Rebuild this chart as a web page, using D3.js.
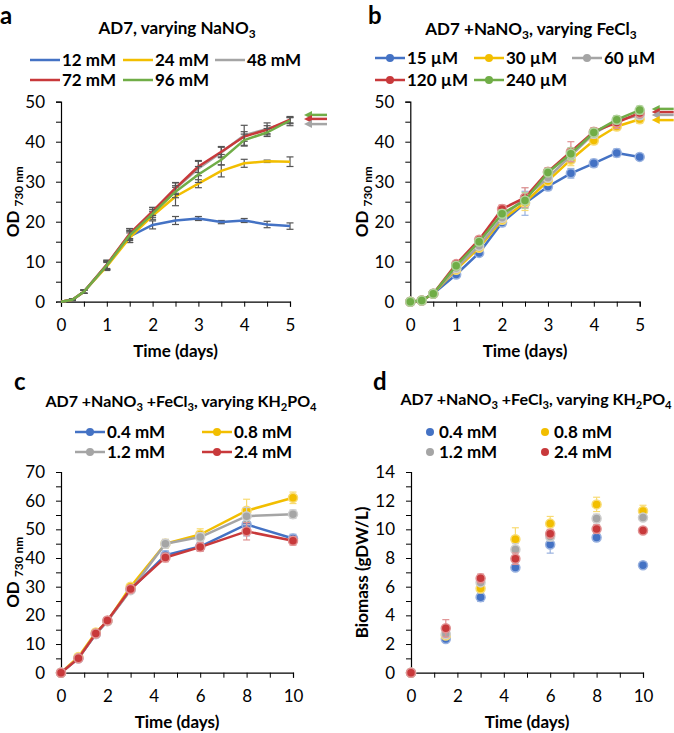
<!DOCTYPE html>
<html><head><meta charset="utf-8">
<script src="https://cdn.jsdelivr.net/npm/d3@7"></script>
<style>
body{margin:0;background:#fff;}
svg{display:block;font-family:Lato,"Open Sans",sans-serif;}
</style></head>
<body>
<svg id="chart" width="674" height="733"></svg>
<script>
// ---------- DATA ----------
const colors = {blue:"#4472C4", yellow:"#F2BE00", gray:"#A5A5A5", red:"#C8393B", green:"#70AD47"};

// Panel a: AD7, varying NaNO3
const timeA = [0,0.25,0.5,1,1.5,2,2.5,3,3.5,4,4.5,5];
const namesA = ["12 mM","24 mM","48 mM","72 mM","96 mM"];
const a12 = [0,0.5,2.5,9,16.3,19.2,20.3,20.8,19.9,20.3,19.3,18.9];
const a24 = [0,0.5,2.5,8.8,16,21.5,26.3,29.5,32.7,34.6,35.1,35];
const a48 = [0,0.5,2.5,9.2,16.8,22.5,28.3,33.3,37.3,41.6,43.2,45];
const a72 = [0,0.5,2.5,9.3,17,22.6,28.4,33.8,37.5,41.3,43,45.5];
const a96 = [0,0.5,2.5,9.1,16.6,22,27.5,31.8,35.5,40.4,42.3,45.3];
const a12e = [0,0.2,0.4,1,1.5,1,1,0.5,0.4,0.5,0.8,0.8];
const a24e = [0,0.2,0.4,1,1.2,1,2.3,1,1.5,1,0.3,1.2];
const a48e = [0,0.2,0.4,1.2,1.5,1,1.5,1.8,1.3,2.5,1.5,1];
const a72e = [0,0.2,0.4,1,1.2,1,1.3,1.5,1.3,1.2,1,0.8];
const a96e = [0,0.2,0.4,1,1,1,1.5,2,1.3,1.5,1,0.8];
const arrowsA = [{c:"green",v:46.7},{c:"red",v:45.7},{c:"gray",v:44.4}];

// Panel b: AD7 +NaNO3, varying FeCl3
const timeB = [0,0.25,0.5,1,1.5,2,2.5,3,3.5,4,4.5,5];
const namesB = ["15 µM","30 µM","60 µM","120 µM","240 µM"];
const b15 = [0,0.3,2,6.8,12.2,19.8,24.6,28.8,32.1,34.6,37.2,36.2];
const b30 = [0,0.3,2,8,13.5,20.5,24.8,30.2,35.5,40.3,43.8,45.6];
const b60 = [0,0.3,2,8.4,14,21,26,31,36.5,42,45.3,46.6];
const b120 = [0,0.3,2,9.4,15.5,23.2,26,32.5,37.5,42.5,44.8,47.2];
const b240 = [0,0.3,2,9,15,22,25.3,32.3,37,42.3,45.5,47.9];
const b15e = [0,0.2,0.3,0.8,0.8,1,3,1,1.2,1,1,0.8];
const b30e = [0,0.2,0.3,0.8,0.8,1,2,1,1.5,1,1,1];
const b60e = [0,0.2,0.3,0.8,0.8,1,2.5,1,1.5,1,1,1];
const b120e = [0,0.2,0.3,0.8,0.8,1,2.5,1,2.5,1,1.5,1];
const b240e = [0,0.2,0.3,0.8,0.8,1,2,1,1.5,1,1,1];
const arrowsB = [{c:"green",v:48.2},{c:"red",v:47.4},{c:"gray",v:46.7},{c:"yellow",v:45.4}];

// Panel c: AD7 +NaNO3 +FeCl3, varying KH2PO4 (OD)
const timeC = [0,0.75,1.5,2,3,4.5,6,8,10];
const namesC = ["0.4 mM","0.8 mM","1.2 mM","2.4 mM"];
const c04 = [0,5,13.5,18,29,41,44,51.7,46.8];
const c08 = [0,5.5,14,18,30,45,48.2,56.5,61];
const c12 = [0,5,13.5,18,28.8,45,47.3,54.6,55.3];
const c24 = [0,5,13.7,18.2,29.2,40.2,43.8,49.3,46];
const c04e = [0,0.5,1,0.8,1,1.5,1.5,4,1.5];
const c08e = [0,0.5,1,0.8,1,1.5,2,4,2];
const c12e = [0,0.5,1,0.8,1,1.5,1.5,3,1.5];
const c24e = [0,0.5,1,0.8,1,1.5,1.5,3,1.5];

// Panel d: biomass
const timeD = [0,1.5,3,4.5,6,8,10];
const namesD = ["0.4 mM","0.8 mM","1.2 mM","2.4 mM"];
const d04 = [0,2.35,5.27,7.33,8.94,9.43,7.5];
const d08 = [0,2.6,5.87,9.31,10.4,11.74,11.28];
const d12 = [0,2.7,6.3,8.6,9.5,10.76,10.82];
const d24 = [0,3.1,6.58,7.95,9.7,10.02,9.92];
const d04e = [0,0.15,0.3,0.2,0.6,0.25,0.2];
const d08e = [0,0.2,0.2,0.8,0.5,0.5,0.4];
const d12e = [0,0.2,0.2,0.4,0.3,0.3,0.2];
const d24e = [0,0.6,0.3,0.4,0.3,0.3,0.2];

// ---------- DRAW ----------
const svg = d3.select("#chart");
const FS = 17;
const light = c => d3.interpolateRgb(c,"#fff")(0.45);

function sub(textSel, parts){
  let shifted = false;
  parts.forEach(([t,s])=>{
    const ts = textSel.append("tspan").text(t);
    if(s && !shifted){ts.attr("dy",4).attr("font-size","0.7em"); shifted=true;}
    else if(!s && shifted){ts.attr("dy",-4); shifted=false;}
  });
}

function panel(cfg){
  const g = svg.append("g");
  const x = d3.scaleLinear().domain(cfg.xd).range([cfg.L,cfg.R]);
  const y = d3.scaleLinear().domain(cfg.yd).range([cfg.B,cfg.T]);
  const yAxis = d3.axisLeft(y).tickValues(d3.range(cfg.yd[0],cfg.yd[1]+1e-9,cfg.yMinor))
     .tickSize(5).tickPadding(11)
     .tickFormat(v => (Math.abs(v/cfg.yMajor - Math.round(v/cfg.yMajor))<1e-6) ? d3.format("d")(v) : "");
  const xAxis = d3.axisBottom(x).tickValues(d3.range(cfg.xd[0],cfg.xd[1]+1e-9,cfg.xMinor))
     .tickSize(5).tickPadding(12)
     .tickFormat(v => (Math.abs(v/cfg.xMajor - Math.round(v/cfg.xMajor))<1e-6) ? d3.format("d")(v) : "");
  const ya = g.append("g").attr("transform",`translate(${cfg.L},0)`).call(yAxis);
  const xa = g.append("g").attr("transform",`translate(0,${cfg.B})`).call(xAxis);
  [ya,xa].forEach(a=>{
    a.select(".domain").attr("stroke","#000").attr("stroke-width",1.2);
    a.selectAll(".tick line").attr("stroke","#000").attr("stroke-width",1);
    a.selectAll("text").attr("font-size",FS).attr("fill","#000").attr("font-family","Lato");
  });
  g.append("text").attr("x",(cfg.L+cfg.R)/2).attr("y",cfg.B+55).attr("text-anchor","middle")
    .attr("font-weight","bold").attr("font-size",FS).text("Time (days)");
  const yl = g.append("text").attr("transform",`translate(${cfg.L-cfg.yLabOff},${(cfg.T+cfg.B)/2}) rotate(-90)`)
    .attr("text-anchor","middle").attr("font-weight","bold").attr("font-size",FS);
  sub(yl, cfg.yLabel);
  g.append("text").attr("x",cfg.letterX).attr("y",cfg.letterY).attr("font-weight","bold")
    .attr("font-size",24).text(cfg.letter);
  const tt = g.append("text").attr("x",cfg.titleX).attr("y",cfg.titleY).attr("text-anchor","middle")
    .attr("font-weight","bold").attr("font-size",cfg.titleFS);
  sub(tt, cfg.title);

  cfg.series.forEach(s=>{
    const pts = cfg.time.map((t,i)=>({t, v:s.v[i], e:s.e[i]}));
    const col = colors[s.c];
    const ecol = cfg.errGray ? "#555" : light(col);
    const eg = g.append("g");
    pts.forEach(p=>{
      eg.append("line").attr("x1",x(p.t)).attr("x2",x(p.t)).attr("y1",y(p.v-p.e)).attr("y2",y(p.v+p.e))
        .attr("stroke",ecol).attr("stroke-width",1.2);
      [p.v-p.e,p.v+p.e].forEach(v=>eg.append("line").attr("x1",x(p.t)-3.5).attr("x2",x(p.t)+3.5)
        .attr("y1",y(v)).attr("y2",y(v)).attr("stroke",ecol).attr("stroke-width",1.2));
    });
    if(cfg.lines){
      g.append("path").datum(pts).attr("fill","none").attr("stroke",col).attr("stroke-width",2.5)
        .attr("stroke-linejoin","round")
        .attr("d",d3.line().x(p=>x(p.t)).y(p=>y(p.v)));
    }
    if(cfg.markers){
      g.selectAll(null).data(pts).enter().append("circle")
        .attr("cx",p=>x(p.t)).attr("cy",p=>y(p.v)).attr("r",4.5)
        .attr("fill",col).attr("stroke",light(col)).attr("stroke-width",1.5);
    }
  });
  (cfg.arrows||[]).forEach(a=>{
    const col = colors[a.c];
    const x0 = cfg.R + cfg.arrowOff, yy = y(a.v);
    g.append("path").attr("d",`M${x0},${yy} L${x0+8},${yy-4} L${x0+8},${yy+4} Z`).attr("fill",col);
    g.append("line").attr("x1",x0+7).attr("x2",x0+cfg.arrowLen).attr("y1",yy).attr("y2",yy)
      .attr("stroke",col).attr("stroke-width",2.5);
  });
  cfg.legend.forEach((it,i)=>{
    const col = colors[it.c];
    const lx = cfg.legX[i%cfg.legCols], ly = cfg.legY[Math.floor(i/cfg.legCols)];
    if(cfg.legLine){
      g.append("line").attr("x1",lx).attr("x2",lx+30).attr("y1",ly).attr("y2",ly)
        .attr("stroke",col).attr("stroke-width",2.5);
      if(cfg.markers) g.append("circle").attr("cx",lx+15).attr("cy",ly).attr("r",4).attr("fill",col);
      g.append("text").attr("x",lx+32).attr("y",ly+6).attr("font-weight","bold").attr("font-size",FS).text(it.n);
    } else {
      g.append("circle").attr("cx",lx).attr("cy",ly).attr("r",4).attr("fill",col);
      g.append("text").attr("x",lx+9).attr("y",ly+6).attr("font-weight","bold").attr("font-size",FS).text(it.n);
    }
  });
}

const odLabel = [["OD ",false],["730 nm",true]];
const titleC = [["AD7 +NaNO",false],["3",true],[" +FeCl",false],["3",true],[", varying KH",false],["2",true],["PO",false],["4",true]];

panel({
  L:61,R:290,T:101.7,B:301.7, xd:[0,5], yd:[0,50], xMinor:0.5, xMajor:1, yMinor:5, yMajor:10,
  time:timeA, lines:true, markers:false, errGray:true,
  series:[{c:"blue",v:a12,e:a12e},{c:"yellow",v:a24,e:a24e},{c:"gray",v:a48,e:a48e},{c:"red",v:a72,e:a72e},{c:"green",v:a96,e:a96e}],
  arrows:arrowsA, arrowOff:14, arrowLen:23,
  legend:[{c:"blue",n:namesA[0]},{c:"yellow",n:namesA[1]},{c:"gray",n:namesA[2]},{c:"red",n:namesA[3]},{c:"green",n:namesA[4]}],
  legX:[30,123,215], legY:[60,80], legCols:3, legLine:true,
  letter:"a", letterX:0, letterY:24,
  title:[["AD7, varying NaNO",false],["3",true]], titleX:177, titleY:34, titleFS:17,
  yLabel:odLabel, yLabOff:42
});
panel({
  L:410.3,R:639.7,T:101.7,B:301.7, xd:[0,5], yd:[0,50], xMinor:0.5, xMajor:1, yMinor:5, yMajor:10,
  time:timeB, lines:true, markers:true, errGray:false,
  series:[{c:"blue",v:b15,e:b15e},{c:"yellow",v:b30,e:b30e},{c:"gray",v:b60,e:b60e},{c:"red",v:b120,e:b120e},{c:"green",v:b240,e:b240e}],
  arrows:arrowsB, arrowOff:12, arrowLen:22,
  legend:[{c:"blue",n:namesB[0]},{c:"yellow",n:namesB[1]},{c:"gray",n:namesB[2]},{c:"red",n:namesB[3]},{c:"green",n:namesB[4]}],
  legX:[375,474,572], legY:[58,80], legCols:3, legLine:true,
  letter:"b", letterX:368, letterY:24,
  title:[["AD7 +NaNO",false],["3",true],[", varying FeCl",false],["3",true]], titleX:531, titleY:35, titleFS:17,
  yLabel:odLabel, yLabOff:42
});
panel({
  L:61,R:293,T:472,B:672.7, xd:[0,10], yd:[0,70], xMinor:1, xMajor:2, yMinor:5, yMajor:10,
  time:timeC, lines:true, markers:true, errGray:false,
  series:[{c:"blue",v:c04,e:c04e},{c:"yellow",v:c08,e:c08e},{c:"gray",v:c12,e:c12e},{c:"red",v:c24,e:c24e}],
  legend:[{c:"blue",n:namesC[0]},{c:"yellow",n:namesC[1]},{c:"gray",n:namesC[2]},{c:"red",n:namesC[3]}],
  legX:[75,202], legY:[432,452], legCols:2, legLine:true,
  letter:"c", letterX:14, letterY:390,
  title:titleC, titleX:181, titleY:407, titleFS:16,
  yLabel:odLabel, yLabOff:42
});
panel({
  L:411,R:643,T:472,B:672.7, xd:[0,10], yd:[0,14], xMinor:1, xMajor:2, yMinor:1, yMajor:2,
  time:timeD, lines:false, markers:true, errGray:false,
  series:[{c:"blue",v:d04,e:d04e},{c:"yellow",v:d08,e:d08e},{c:"gray",v:d12,e:d12e},{c:"red",v:d24,e:d24e}],
  legend:[{c:"blue",n:namesD[0]},{c:"yellow",n:namesD[1]},{c:"gray",n:namesD[2]},{c:"red",n:namesD[3]}],
  legX:[430,545], legY:[432,452], legCols:2, legLine:false,
  letter:"d", letterX:373, letterY:390,
  title:titleC, titleX:536, titleY:405, titleFS:16,
  yLabel:[["Biomass (gDW/L)",false]], yLabOff:43
});
</script>
</body></html>
